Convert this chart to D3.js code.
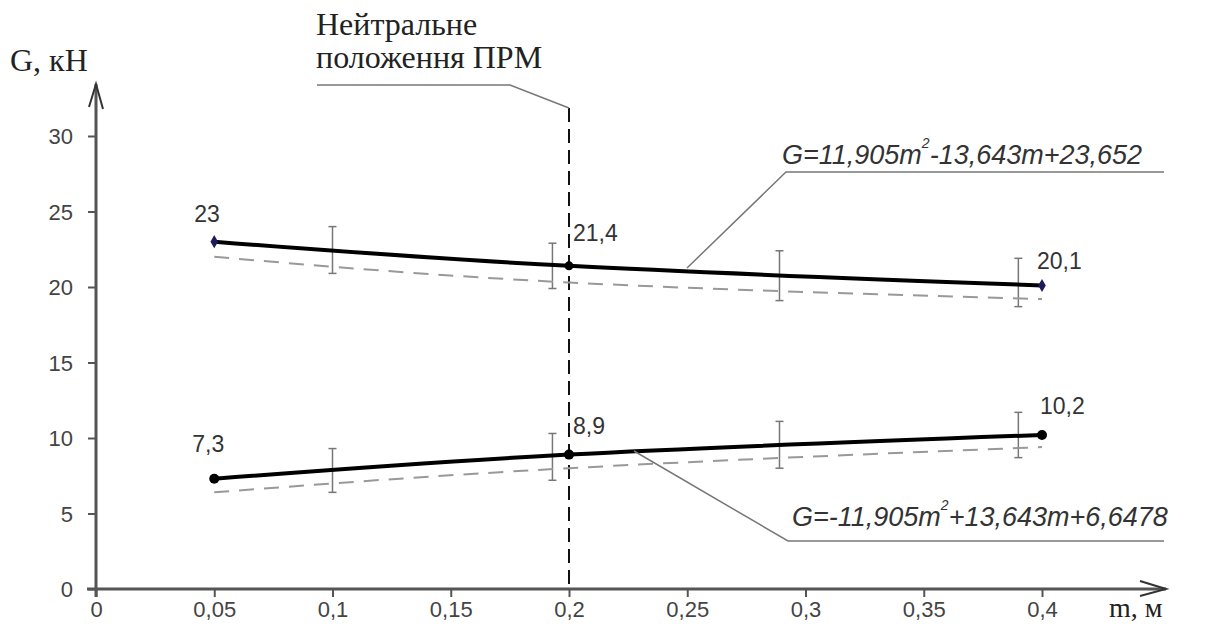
<!DOCTYPE html>
<html>
<head>
<meta charset="utf-8">
<script src="https://cdn.jsdelivr.net/npm/d3@7"></script>
<style>
  body { margin: 0; background: #fff; }
  .tickLabel { font-family: Arial, "Liberation Sans", sans-serif; font-size: 22px; fill: #444; }
  .dataLabel { font-family: Arial, "Liberation Sans", sans-serif; font-size: 23px; fill: #333; }
  .serifLabel { font-family: "Liberation Serif", "Times New Roman", serif; fill: #222; }
  .equation { font-family: Arial, "Liberation Sans", sans-serif; font-size: 27px; font-style: italic; fill: #333; }
</style>
</head>
<body>
<script>
// ticks
var xTicks = [0, 0.05, 0.1, 0.15, 0.2, 0.25, 0.3, 0.35, 0.4];
var yTicks = [0, 5, 10, 15, 20, 25, 30];

// measured points
var upperM = [0.05, 0.2, 0.4];
var upperG = [23, 21.4, 20.1];
var lowerM = [0.05, 0.2, 0.4];
var lowerG = [7.3, 8.9, 10.2];

// dashed trend lines
var dashM = [0.05, 0.2, 0.4];
var upperDashG = [22.0, 20.3, 19.2];
var lowerDashG = [6.4, 8.0, 9.4];

// error bars
var errM = [0.1, 0.193, 0.289, 0.39];
var upperErrHi = [24.0, 22.9, 22.4, 21.9];
var upperErrLo = [20.9, 19.9, 19.1, 18.7];
var lowerErrHi = [9.3, 10.3, 11.1, 11.7];
var lowerErrLo = [6.4, 7.2, 8.0, 8.7];

var labelsUpper = ["23", "21,4", "20,1"];
var labelsLower = ["7,3", "8,9", "10,2"];

var neutralM = 0.2;

var width = 1211, height = 643;

var xScale = d3.scaleLinear().domain([0, 0.4]).range([96, 1042]);
var yScale = d3.scaleLinear().domain([0, 30]).range([589, 136]);

var fmt = function(d) { return String(d).replace(".", ","); };

var svg = d3.select("body").append("svg")
    .attr("width", width)
    .attr("height", height);

// axes
var yAxis = svg.append("g")
    .attr("transform", "translate(" + xScale(0) + ",0)")
    .call(d3.axisLeft(yScale).tickValues(yTicks).tickSize(8).tickFormat(fmt));
yAxis.select(".domain").remove();
yAxis.selectAll(".tick line").attr("stroke", "#555").attr("stroke-width", 2);
yAxis.selectAll(".tick text").attr("class", "tickLabel").attr("x", -23).attr("dy", "0.36em");

var xAxis = svg.append("g")
    .attr("transform", "translate(0," + yScale(0) + ")")
    .call(d3.axisBottom(xScale).tickValues(xTicks).tickSize(8).tickFormat(fmt));
xAxis.select(".domain").remove();
xAxis.selectAll(".tick line").attr("stroke", "#555").attr("stroke-width", 2);
xAxis.selectAll(".tick text").attr("class", "tickLabel").attr("y", 12).attr("dy", "0.71em");

// axis lines with open arrows
svg.append("line")
    .attr("x1", xScale(0)).attr("y1", yScale(0) + 8)
    .attr("x2", xScale(0)).attr("y2", 84)
    .attr("stroke", "#555").attr("stroke-width", 3);
svg.append("path")
    .attr("d", "M" + (xScale(0) - 7) + ",107 L" + xScale(0) + ",84 L" + (xScale(0) + 7) + ",109")
    .attr("fill", "none").attr("stroke", "#333").attr("stroke-width", 2);

svg.append("line")
    .attr("x1", xScale(0) - 9).attr("y1", yScale(0))
    .attr("x2", 1166).attr("y2", yScale(0))
    .attr("stroke", "#555").attr("stroke-width", 3);
svg.append("path")
    .attr("d", "M1140," + (yScale(0) - 8) + " L1166," + yScale(0) + " L1140," + (yScale(0) + 7))
    .attr("fill", "none").attr("stroke", "#333").attr("stroke-width", 2);

svg.append("text").attr("class", "serifLabel").style("font-size", "32px")
    .attr("x", 10).attr("y", 71).text("G, кН");
svg.append("text").attr("class", "serifLabel").style("font-size", "28px")
    .attr("x", 1109).attr("y", 617).text("m, м");

// neutral position line + caption
svg.append("line")
    .attr("x1", xScale(neutralM)).attr("y1", 108)
    .attr("x2", xScale(neutralM)).attr("y2", yScale(0))
    .attr("stroke", "#111").attr("stroke-width", 2)
    .attr("stroke-dasharray", "14,7");
svg.append("path")
    .attr("d", "M317,85 L510,85 L" + xScale(neutralM) + ",108")
    .attr("fill", "none").attr("stroke", "#777").attr("stroke-width", 1.5);
svg.append("text").attr("class", "serifLabel").style("font-size", "32px")
    .attr("x", 316).attr("y", 35).text("Нейтральне");
svg.append("text").attr("class", "serifLabel").style("font-size", "32px")
    .attr("x", 316).attr("y", 68).text("положення ПРМ");

// error bars
function drawErrors(hi, lo) {
    var g = svg.append("g").attr("stroke", "#777").attr("stroke-width", 1.5);
    errM.forEach(function(m, i) {
        var x = xScale(m);
        g.append("line").attr("x1", x).attr("x2", x).attr("y1", yScale(hi[i])).attr("y2", yScale(lo[i]));
        g.append("line").attr("x1", x - 4).attr("x2", x + 4).attr("y1", yScale(hi[i])).attr("y2", yScale(hi[i]));
        g.append("line").attr("x1", x - 4).attr("x2", x + 4).attr("y1", yScale(lo[i])).attr("y2", yScale(lo[i]));
    });
}
drawErrors(upperErrHi, upperErrLo);
drawErrors(lowerErrHi, lowerErrLo);

var line = d3.line()
    .x(function(d) { return xScale(d[0]); })
    .y(function(d) { return yScale(d[1]); })
    .curve(d3.curveNatural);

// dashed trend lines
[upperDashG, lowerDashG].forEach(function(vals) {
    svg.append("path")
        .datum(dashM.map(function(m, i) { return [m, vals[i]]; }))
        .attr("d", line)
        .attr("fill", "none").attr("stroke", "#999").attr("stroke-width", 2)
        .attr("stroke-dasharray", "15,10");
});

// solid lines
svg.append("path")
    .datum(upperM.map(function(m, i) { return [m, upperG[i]]; }))
    .attr("d", line)
    .attr("fill", "none").attr("stroke", "#000").attr("stroke-width", 4);
svg.append("path")
    .datum(lowerM.map(function(m, i) { return [m, lowerG[i]]; }))
    .attr("d", line)
    .attr("fill", "none").attr("stroke", "#000").attr("stroke-width", 4);

// markers
upperM.forEach(function(m, i) {
    if (i === 1) {
        svg.append("circle").attr("cx", xScale(m)).attr("cy", yScale(upperG[i])).attr("r", 4.5).attr("fill", "#000");
    } else {
        svg.append("path")
            .attr("transform", "translate(" + xScale(m) + "," + yScale(upperG[i]) + ")")
            .attr("d", d3.symbol().type(d3.symbolDiamond).size(50))
            .attr("fill", "#1c1c5c");
    }
});
lowerM.forEach(function(m, i) {
    svg.append("circle").attr("cx", xScale(m)).attr("cy", yScale(lowerG[i])).attr("r", 5).attr("fill", "#000");
});

// data labels
var upperOffsets = [[-20, -20], [4, -25], [-5, -16]];
var lowerOffsets = [[-22, -27], [4, -21], [-2, -21]];
upperM.forEach(function(m, i) {
    svg.append("text").attr("class", "dataLabel")
        .attr("x", xScale(m) + upperOffsets[i][0]).attr("y", yScale(upperG[i]) + upperOffsets[i][1])
        .text(labelsUpper[i]);
});
lowerM.forEach(function(m, i) {
    svg.append("text").attr("class", "dataLabel")
        .attr("x", xScale(m) + lowerOffsets[i][0]).attr("y", yScale(lowerG[i]) + lowerOffsets[i][1])
        .text(labelsLower[i]);
});

// equations with leader lines
svg.append("path")
    .attr("d", "M687,268 L786,172 L1164,172")
    .attr("fill", "none").attr("stroke", "#777").attr("stroke-width", 1.5);
var eq1 = svg.append("text").attr("class", "equation").attr("x", 782).attr("y", 164);
eq1.append("tspan").text("G=11,905m");
eq1.append("tspan").style("font-size", "14px").attr("dy", -16).text("2");
eq1.append("tspan").attr("dy", 16).text("-13,643m+23,652");

svg.append("path")
    .attr("d", "M634,451 L788,541 L1164,541")
    .attr("fill", "none").attr("stroke", "#777").attr("stroke-width", 1.5);
var eq2 = svg.append("text").attr("class", "equation").attr("x", 792).attr("y", 526);
eq2.append("tspan").text("G=-11,905m");
eq2.append("tspan").style("font-size", "14px").attr("dy", -16).text("2");
eq2.append("tspan").attr("dy", 16).text("+13,643m+6,6478");
</script>
</body>
</html>
